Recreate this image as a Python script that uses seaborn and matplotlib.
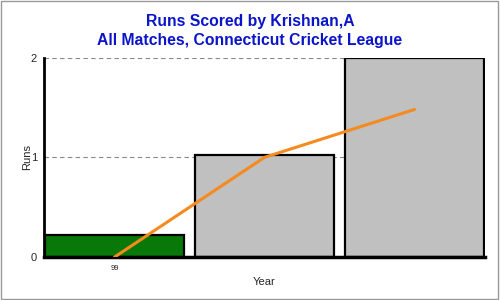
import matplotlib
matplotlib.use("Agg")
import matplotlib.pyplot as plt
import matplotlib.patches as mpatches
import seaborn as sns
import pandas as pd

# ---- data ----
categories = ["99", "00", "01"]
tick_labels = ["99", "", ""]
runs = [0.22, 1.02, 2.0]
trend = [0.0, 1.0, 1.48]
bar_colors = ["#087808", "#c0c0c0", "#c0c0c0"]

sns.set_theme(style="white")
plt.rcParams["font.family"] = ["Liberation Sans", "DejaVu Sans"]

fig = plt.figure(figsize=(5, 3), dpi=100)
ax = fig.add_axes([0.088, 0.143, 0.882, 0.665])

df = pd.DataFrame({"Year": categories, "Runs": runs})
sns.barplot(data=df, x="Year", y="Runs", hue="Year", palette=bar_colors,
            legend=False, width=0.93, edgecolor="black", linewidth=1.6,
            saturation=1, ax=ax, zorder=2)
sns.lineplot(x=[0, 1, 2], y=trend, color="#f58a1f", linewidth=2.2, ax=ax, zorder=4)

ax.set_xlim(-0.47, 2.47)
ax.set_ylim(0, 2.0)
ax.set_yticks([0, 1, 2])
ax.set_yticklabels(["0", "1", "2"], fontsize=8)
ax.set_xticks([0, 1, 2])
ax.set_xticklabels(tick_labels, fontsize=5.5)
ax.tick_params(axis="x", length=4, width=0.8, color="#888888", direction="out", pad=2)
ax.tick_params(axis="y", length=3, width=0.8, color="#888888", direction="out", pad=2)
ax.yaxis.grid(True, linestyle=(0, (4, 3)), color="#888888", linewidth=0.8, zorder=0)
ax.set_axisbelow(True)

for s in ["top", "right"]:
    ax.spines[s].set_visible(False)
ax.spines["left"].set_color("black")
ax.spines["left"].set_linewidth(2)
ax.spines["bottom"].set_color("black")
ax.spines["bottom"].set_linewidth(2.5)

ax.set_xlabel("Year", fontsize=8, labelpad=3)
ax.set_ylabel("Runs", fontsize=8, labelpad=-1)

fig.text(0.5, 0.928, "Runs Scored by Krishnan,A", ha="center", va="center",
         fontsize=11.3, fontweight="bold", color="#0a14c8")
fig.text(0.5, 0.866, "All Matches, Connecticut Cricket League", ha="center",
         va="center", fontsize=11.3, fontweight="bold", color="#0a14c8")

fig.patches.append(mpatches.Rectangle((0.002, 0.004), 0.994, 0.993, transform=fig.transFigure,
                                      fill=False, edgecolor="#999999", linewidth=1))

fig.savefig("out.png", dpi=100)
